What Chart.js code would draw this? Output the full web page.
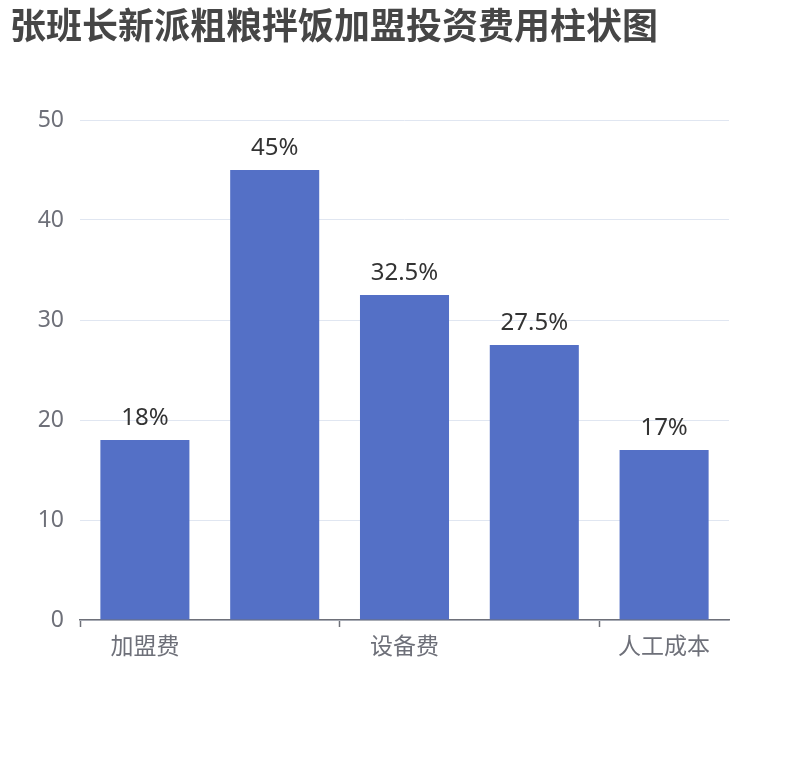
<!DOCTYPE html>
<html>
<head>
<meta charset="utf-8">
<script src="https://cdn.jsdelivr.net/npm/chart.js@4.4.0/dist/chart.umd.min.js"></script>
<style>
  html, body { margin: 0; padding: 0; background: #fff; }
  #wrap { width: 810px; height: 760px; }
</style>
</head>
<body>
<div id="wrap"><canvas id="chart"></canvas></div>
<script>
// categories (2nd and 4th labels are skipped on the axis in the reference)
const categories = ['加盟费', '店面租金', '设备费', '装修费', '人工成本'];
const costShare = [18, 45, 32.5, 27.5, 17];
const yTicks = [0, 10, 20, 30, 40, 50];

const FONT = '"Noto Sans", "Noto Sans CJK SC", sans-serif';

// draws "xx%" above each bar
const valueLabels = {
  id: 'valueLabels',
  afterDatasetsDraw(chart) {
    const { ctx } = chart;
    const meta = chart.getDatasetMeta(0);
    ctx.save();
    ctx.font = '24px ' + FONT;
    ctx.fillStyle = '#333';
    ctx.textAlign = 'center';
    ctx.textBaseline = 'alphabetic';
    meta.data.forEach((bar, i) => {
      ctx.fillText(costShare[i] + '%', bar.x, bar.y - 15);
    });
    ctx.restore();
  }
};

const ctx = document.getElementById('chart').getContext('2d');
new Chart(ctx, {
  type: 'bar',
  data: {
    labels: categories,
    datasets: [{
      data: costShare,
      backgroundColor: '#5470c6',
      barPercentage: 0.686,
      categoryPercentage: 1
    }]
  },
  options: {
    responsive: true,
    maintainAspectRatio: false,
    animation: false,
    layout: { padding: { top: 0, left: 10, right: 81, bottom: 80 } },
    plugins: {
      legend: { display: false },
      tooltip: { enabled: false },
      title: {
        display: true,
        text: '张班长新派粗粮拌饭加盟投资费用柱状图',
        align: 'start',
        color: '#464646',
        font: { family: '"Noto Sans CJK SC", sans-serif', size: 36, weight: 'bold', lineHeight: 1.2 },
        padding: { top: 4, bottom: 72.8 }
      }
    },
    scales: {
      x: {
        offset: true,
        afterFit: (scale) => { scale.height = 60; },
        border: { display: true, color: '#6e7079', width: 1.5 },
        grid: {
          offset: true,
          drawOnChartArea: false,
          drawTicks: true,
          tickLength: 7,
          tickWidth: 1.5,
          tickColor: (c) => (c.index % 2 === 0 || c.index === categories.length) ? '#6e7079' : 'rgba(0,0,0,0)'
        },
        ticks: {
          autoSkip: false,
          maxRotation: 0,
          padding: 7,
          color: '#6e7079',
          font: { family: FONT, size: 23 },
          callback: (v, i) => (i % 2 === 0 ? categories[i] : '')
        }
      },
      y: {
        min: yTicks[0],
        max: yTicks[yTicks.length - 1],
        afterFit: (scale) => { scale.width = 70; },
        afterBuildTicks: (scale) => { scale.ticks = yTicks.map(v => ({ value: v })); },
        border: { display: false },
        grid: { color: '#e0e6f1', drawTicks: false },
        ticks: {
          padding: 16,
          color: '#6e7079',
          font: { family: FONT, size: 23 }
        }
      }
    }
  },
  plugins: [valueLabels]
});
</script>
</body>
</html>
